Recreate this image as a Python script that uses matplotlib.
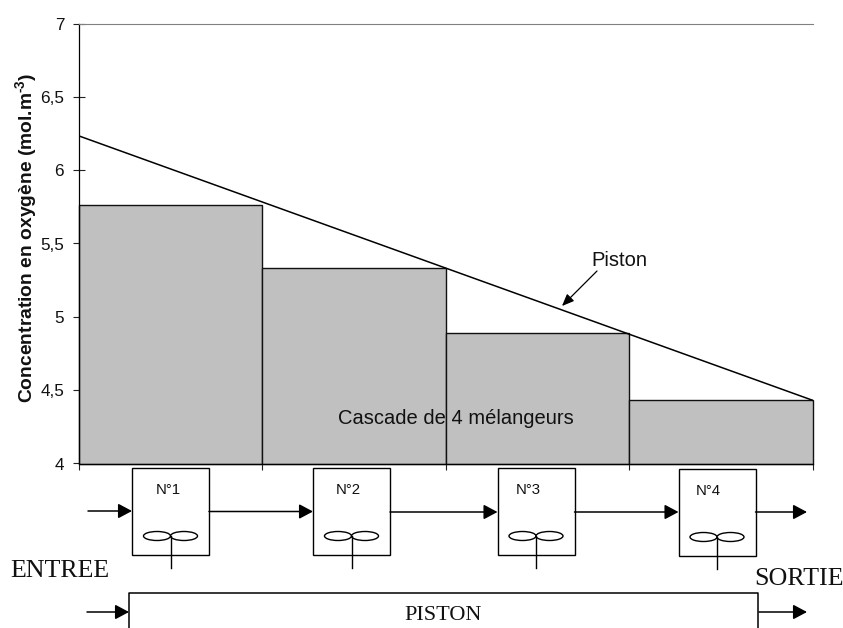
import matplotlib
matplotlib.use("Agg")
import matplotlib.pyplot as plt
from matplotlib.patches import Rectangle, Ellipse

plt.rcParams['font.family'] = ['Liberation Sans', 'DejaVu Sans']
plt.rcParams['mathtext.fontset'] = 'custom'
plt.rcParams['mathtext.rm'] = 'Liberation Sans:bold'
plt.rcParams['mathtext.bf'] = 'Liberation Sans:bold'

# data
melangeurs = [1, 2, 3, 4]
cascade = [5.76, 5.33, 4.89, 4.43]
piston_x = [0.51, 4.5]
piston_y = [6.23, 4.43]
yticks = [4, 4.5, 5, 5.5, 6, 6.5, 7]
ylabels = ['4', '4,5', '5', '5,5', '6', '6,5', '7']
xedges = [0.5, 1.5, 2.5, 3.5, 4.5]

W, H = 843, 628
fig = plt.figure(figsize=(W / 100, H / 100), dpi=100)
ax = fig.add_axes([78.5 / W, 1 - 463.5 / H, (813 - 78.5) / W, (463.5 - 23.5) / H])

ax.bar(melangeurs, [v - 4 for v in cascade], bottom=4, width=1, color='#c0c0c0',
       edgecolor='#111111', linewidth=1, zorder=2, clip_on=False)
ax.plot(piston_x, piston_y, color='black', lw=1.1, zorder=3)
ax.set_xlim(0.5, 4.5)
ax.set_ylim(4, 7)
ax.set_axisbelow(True)
ax.set_yticks(yticks)
ax.set_yticklabels(ylabels, fontsize=12.3, color='#111111')
ax.set_xticks(xedges)
ax.set_xticklabels([])
ax.tick_params(axis='y', direction='inout', length=8.6, width=0.8, pad=6, color='#222222')
ax.tick_params(axis='x', direction='out', length=4.3, width=0.8, color='#222222')
ax.spines['right'].set_visible(False)
ax.spines['top'].set_color('#808080')
ax.spines['top'].set_linewidth(0.8)
ax.spines['left'].set_linewidth(0.9)
ax.spines['bottom'].set_linewidth(0.9)

ax.set_ylabel('Concentration en oxygène (mol.m$^{\\text{-3}}$)', fontsize=13.9,
              fontweight='bold', color='#111111')
ax.yaxis.set_label_coords((40.5 - 78.5) / (813 - 78.5), 0.514)

# diagram below the chart, drawn in pixel coordinates
ov = fig.add_axes([0, 0, 1, 1])
ov.set_xlim(0, W)
ov.set_ylim(H, 0)
ov.axis('off')
ov.patch.set_alpha(0)


def arrow(x0, x1, y):
    ov.annotate('', xy=(x1, y), xytext=(x0, y),
                arrowprops=dict(arrowstyle='-|>,head_length=0.6,head_width=0.32',
                                color='black', lw=1.1, shrinkA=0, shrinkB=0,
                                mutation_scale=14))


box_left = [132, 313, 497.5, 678.5]
box_top = [467.5, 467.5, 467.5, 468.5]
label_left = [24, 23, 18, 17.5]
for i, (bx, by) in enumerate(zip(box_left, box_top)):
    ov.add_patch(Rectangle((bx, by), 77, 87.5, fc='white', ec='black', lw=1))
    cx = bx + 38.5
    for dx in (-13.5, 13.5):
        ov.add_patch(Ellipse((cx + dx, by + 68.5), 27, 9, fc='white', ec='black', lw=1))
    ov.plot([cx, cx], [by + 68.5, by + 100.5], color='black', lw=1)
    ov.text(bx + label_left[i], by + 22.5, 'N°%d' % melangeurs[i], fontsize=10.8,
            ha='left', va='center', color='#111111')

arrow(88, 132, 511)
arrow(209, 313, 511.5)
arrow(390, 497.5, 512)
arrow(574.5, 678.5, 512)
arrow(755.5, 807, 512)

# piston bar, runs off the bottom edge
ov.plot([129, 129, 758, 758], [H, 593, 593, H], color='black', lw=1.1, clip_on=True)
arrow(87, 129, 612)
arrow(759, 807, 612)

ov.text(10, 571, 'ENTREE', family='Liberation Serif', fontsize=18.7, ha='left', va='center', color='#111111')
ov.text(754, 579, 'SORTIE', family='Liberation Serif', fontsize=18.7, ha='left', va='center', color='#111111')
ov.text(443, 615, 'PISTON', family='Liberation Serif', fontsize=16, ha='center', va='center', color='#111111')
ov.text(619.5, 260, 'Piston', fontsize=14.5, ha='center', va='center', color='#111111')
ov.text(456, 419, 'Cascade de 4 mélangeurs', fontsize=14.5, ha='center', va='center', color='#111111')
ov.annotate('', xy=(562, 306), xytext=(597, 271),
            arrowprops=dict(arrowstyle='-|>,head_length=0.6,head_width=0.25', color='black',
                            lw=0.9, shrinkA=0, shrinkB=0, mutation_scale=12))

fig.savefig('out.png', dpi=100, facecolor='white')
